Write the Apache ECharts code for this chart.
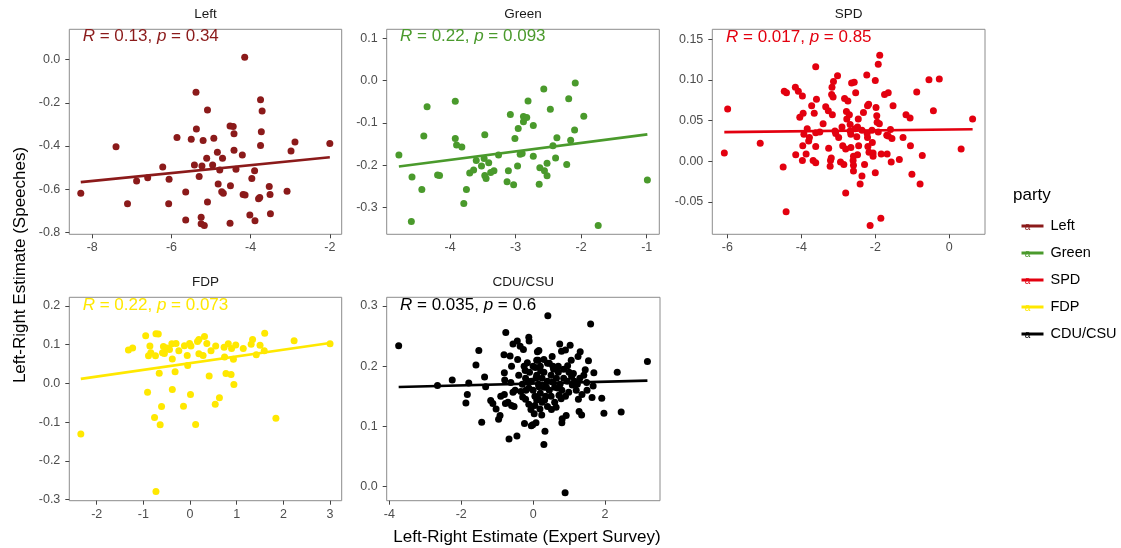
<!DOCTYPE html>
<html><head><meta charset="utf-8">
<script src="https://cdn.jsdelivr.net/npm/echarts@6/dist/echarts.min.js"></script>
<style>html,body{margin:0;padding:0;background:#fff}#c{width:1121px;height:548px}</style>
</head><body><div id="c"></div>
<script>
// ---------- DATA ----------
const parties = ['Left', 'Green', 'SPD', 'FDP', 'CDU/CSU'];

const leftExpert = [-8.29,-7.40,-7.11,-6.88,-6.60,-6.22,-6.06,-6.07,-5.86,-5.64,-5.64,-5.50,-5.38,-5.37,-5.42,-5.30,-5.25,-5.25,-5.17,-5.23,-5.20,-5.09,-5.11,-5.09,-4.93,-4.96,-4.84,-4.82,-4.78,-4.71,-4.73,-4.69,-4.52,-4.44,-4.42,-4.42,-4.37,-4.51,-4.52,-4.21,-4.19,-4.14,-4.15,-4.02,-3.97,-3.90,-3.89,-3.80,-3.77,-3.75,-3.71,-3.73,-3.75,-3.53,-3.51,-3.50,-3.08,-2.98,-2.88,-2.00];
const leftSpeech = [-0.619,-0.403,-0.667,-0.562,-0.547,-0.497,-0.554,-0.667,-0.360,-0.613,-0.743,-0.369,-0.151,-0.321,-0.488,-0.541,-0.730,-0.760,-0.768,-0.493,-0.374,-0.233,-0.457,-0.659,-0.364,-0.488,-0.429,-0.576,-0.511,-0.457,-0.612,-0.619,-0.307,-0.310,-0.343,-0.420,-0.507,-0.584,-0.758,-0.442,-0.625,-0.627,0.011,-0.720,-0.550,-0.514,-0.746,-0.644,-0.639,-0.185,-0.238,-0.334,-0.397,-0.588,-0.624,-0.714,-0.610,-0.423,-0.381,-0.388];

const greenExpert = [-4.78,-4.58,-4.59,-4.43,-4.40,-4.35,-4.19,-4.16,-3.92,-3.92,-3.90,-3.82,-3.79,-3.75,-3.70,-3.64,-3.60,-3.52,-3.48,-3.47,-3.47,-3.45,-3.41,-3.38,-3.33,-3.26,-3.13,-3.11,-3.08,-3.03,-3.01,-2.97,-2.96,-2.93,-2.90,-2.88,-2.88,-2.83,-2.81,-2.73,-2.73,-2.64,-2.63,-2.57,-2.56,-2.52,-2.52,-2.47,-2.43,-2.39,-2.37,-2.22,-2.19,-2.16,-2.10,-2.09,-1.96,-1.74,-0.99];
const greenSpeech = [-0.176,-0.228,-0.333,-0.257,-0.131,-0.062,-0.223,-0.224,-0.049,-0.137,-0.152,-0.157,-0.290,-0.257,-0.218,-0.211,-0.189,-0.202,-0.184,-0.128,-0.224,-0.231,-0.194,-0.217,-0.213,-0.176,-0.239,-0.213,-0.080,-0.246,-0.137,-0.202,-0.113,-0.174,-0.172,-0.097,-0.085,-0.087,-0.048,-0.106,-0.179,-0.245,-0.206,-0.020,-0.213,-0.225,-0.195,-0.068,-0.154,-0.183,-0.135,-0.198,-0.043,-0.141,-0.117,-0.006,-0.084,-0.342,-0.235];

const spdExpert = [-6.08,-5.99,-5.11,-4.49,-4.46,-4.40,-4.41,-4.16,-4.15,-4.08,-4.04,-3.97,-3.97,-3.95,-3.96,-3.93,-3.87,-3.84,-3.80,-3.78,-3.72,-3.65,-3.68,-3.61,-3.61,-3.61,-3.59,-3.61,-3.50,-3.41,-3.34,-3.27,-3.26,-3.21,-3.22,-3.19,-3.17,-3.16,-3.18,-3.14,-3.13,-3.09,-3.07,-3.02,-2.99,-2.94,-2.90,-2.88,-2.85,-2.83,-2.80,-2.78,-2.77,-2.80,-2.74,-2.70,-2.68,-2.68,-2.66,-2.66,-2.64,-2.57,-2.59,-2.60,-2.59,-2.59,-2.53,-2.54,-2.50,-2.48,-2.46,-2.48,-2.45,-2.41,-2.36,-2.36,-2.32,-2.29,-2.23,-2.22,-2.21,-2.21,-2.20,-2.18,-2.17,-2.14,-2.09,-2.08,-2.06,-2.06,-2.00,-2.00,-1.98,-1.96,-1.95,-1.92,-1.88,-1.89,-1.92,-1.85,-1.84,-1.75,-1.69,-1.68,-1.65,-1.65,-1.59,-1.57,-1.55,-1.52,-1.35,-1.25,-1.17,-1.06,-1.05,-1.01,-0.88,-0.79,-0.73,-0.55,-0.43,-0.27,0.32,0.63];
const spdSpeech = [0.010,0.064,0.022,-0.007,0.086,0.084,-0.062,0.091,0.008,0.086,0.054,0.080,0.001,0.059,0.019,0.033,0.009,0.040,0.025,0.029,0.068,0.059,0.001,-0.002,0.116,0.018,0.076,0.035,0.036,0.046,0.067,0.062,0.016,0.001,-0.006,0.004,0.091,0.057,0.082,0.079,0.098,0.037,0.034,0.105,0.029,-0.001,0.042,0.019,-0.004,0.077,-0.039,0.061,0.052,0.015,0.074,0.057,0.037,0.045,0.033,0.017,0.096,0.097,0.006,0.001,-0.005,-0.012,0.084,0.040,0.030,0.042,0.052,0.008,0.019,-0.028,-0.018,0.038,0.060,-0.004,0.106,0.034,0.068,0.029,0.018,0.070,0.011,-0.079,0.038,0.023,0.010,0.006,0.099,-0.014,0.066,0.056,0.048,0.119,0.130,0.046,0.036,-0.070,0.009,0.082,0.032,0.009,0.084,0.031,0.039,-0.001,0.028,0.068,0.002,0.029,0.057,0.053,0.019,-0.016,0.085,-0.028,0.007,0.100,0.062,0.101,0.015,0.052];

const fdpExpert = [-2.34,-1.32,-1.23,-0.95,-0.91,-0.89,-0.86,-0.84,-0.76,-0.74,-0.73,-0.68,-0.73,-0.66,-0.64,-0.61,-0.59,-0.57,-0.55,-0.50,-0.44,-0.39,-0.38,-0.38,-0.32,-0.30,-0.24,-0.14,-0.12,-0.06,-0.05,-0.01,0.02,0.01,0.12,0.16,0.19,0.19,0.28,0.31,0.36,0.41,0.45,0.54,0.55,0.63,0.73,0.74,0.77,0.82,0.88,0.89,0.93,0.94,0.98,1.14,1.31,1.34,1.42,1.50,1.59,1.60,1.84,2.23,3.00];
const fdpSpeech = [-0.131,0.086,0.091,0.123,-0.023,0.071,0.096,0.079,-0.088,0.071,0.128,0.127,-0.279,0.026,-0.107,-0.060,0.079,0.095,0.077,0.091,0.087,0.102,0.063,-0.016,0.030,0.103,0.084,-0.059,0.097,0.072,0.046,0.103,0.096,-0.029,-0.106,0.108,0.076,0.113,0.072,0.121,0.103,0.019,0.084,-0.054,0.096,-0.037,0.093,0.068,0.025,0.102,0.023,0.090,0.062,-0.003,0.099,0.090,0.101,0.113,0.074,0.098,0.084,0.129,-0.090,0.110,0.102];

const cduExpert = [-3.74,-2.66,-2.25,-1.79,-1.83,-1.87,-1.59,-1.51,-1.43,-1.35,-1.32,-1.18,-1.12,-1.03,-0.96,-0.92,-0.81,-0.76,-0.80,-0.79,-0.80,-0.77,-0.67,-0.64,-0.62,-0.60,-0.56,-0.53,-0.56,-0.45,-0.44,-0.43,-0.36,-0.34,-0.29,-0.27,-0.24,-0.22,-0.21,-0.21,-0.16,-0.12,-0.12,-0.12,-0.11,-0.06,-0.01,-0.05,0.03,0.08,0.06,0.08,0.10,0.12,0.14,0.16,0.16,0.19,0.21,0.24,0.30,0.33,0.30,0.32,0.37,0.40,0.41,0.45,0.51,0.53,0.54,0.57,0.64,0.68,0.72,0.74,0.78,0.79,0.80,0.81,0.85,0.89,0.90,0.92,0.96,0.99,1.03,1.06,1.07,1.09,1.12,1.23,1.25,1.26,1.28,1.31,1.35,1.36,1.41,1.45,1.49,1.54,1.60,1.64,1.67,1.69,1.91,1.97,2.34,2.45,3.18,
  -0.30,-0.20,-0.10,-0.05,0.00,0.00,0.05,0.10,0.15,0.20,0.20,0.25,0.30,0.30,0.35,0.40,0.45,0.50,0.50,0.55,0.60,0.65,0.70,0.75,0.80,0.85,0.90,0.95,0.25,0.10,-0.40,-0.50,0.60,0.70,1.00,1.15,1.20,-0.15,0.05,0.40,0.15,-0.25,1.50,1.30,-0.70,-0.90,-0.60];
const cduSpeech = [0.234,0.168,0.177,0.172,0.153,0.139,0.202,0.226,0.107,0.182,0.166,0.143,0.138,0.129,0.112,0.118,0.219,0.256,0.189,0.177,0.153,0.138,0.079,0.217,0.173,0.135,0.157,0.133,0.237,0.084,0.242,0.211,0.233,0.158,0.149,0.228,0.105,0.193,0.180,0.145,0.206,0.248,0.164,0.137,0.242,0.128,0.103,0.101,0.121,0.106,0.198,0.180,0.144,0.224,0.210,0.166,0.226,0.129,0.192,0.119,0.070,0.092,0.211,0.144,0.165,0.133,0.284,0.205,0.128,0.216,0.174,0.195,0.132,0.164,0.152,0.237,0.146,0.225,0.106,0.113,0.195,-0.010,0.227,0.118,0.201,0.157,0.235,0.210,0.183,0.169,0.188,0.170,0.216,0.145,0.125,0.224,0.119,0.153,0.185,0.194,0.173,0.209,0.270,0.148,0.167,0.189,0.147,0.122,0.190,0.124,0.208,
  0.170,0.160,0.190,0.175,0.160,0.200,0.150,0.185,0.170,0.155,0.200,0.180,0.165,0.190,0.150,0.175,0.160,0.185,0.150,0.200,0.165,0.180,0.190,0.170,0.160,0.180,0.150,0.175,0.140,0.210,0.185,0.160,0.140,0.200,0.190,0.175,0.160,0.175,0.135,0.205,0.145,0.200,0.160,0.180,0.140,0.150,0.200];

// fitted regression lines (endpoints)
const fitExpert = [[-8.29, -2.00], [-4.78, -0.99], [-6.08, 0.63], [-2.34, 3.00], [-3.74, 3.18]];
const fitSpeech = [[-0.567, -0.452], [-0.203, -0.127], [0.0357, 0.0393], [0.0116, 0.104], [0.1655, 0.176]];

const corR = ['0.13', '0.22', '0.017', '0.22', '0.035'];
const corP = ['0.34', '0.093', '0.85', '0.073', '0.6'];

const xTicks = [[-8, -6, -4, -2], [-4, -3, -2, -1], [-6, -4, -2, 0], [-2, -1, 0, 1, 2, 3], [-4, -2, 0, 2]];
const yTicks = [[-0.8, -0.6, -0.4, -0.2, 0.0], [-0.3, -0.2, -0.1, 0.0, 0.1], [-0.05, 0.00, 0.05, 0.10, 0.15], [-0.3, -0.2, -0.1, 0.0, 0.1, 0.2], [0.0, 0.1, 0.2, 0.3]];
const yDecimals = [1, 1, 2, 1, 1];

// ---------- LAYOUT / STYLE ----------
const partyColors = ['#8B1A1A', '#4A9A2C', '#E3000F', '#FFE800', '#000000'];
const gridBoxes = [
  { left: 69.3, top: 29.3, width: 272.4, height: 205 },
  { left: 386.7, top: 29.3, width: 272.6, height: 205 },
  { left: 712.3, top: 29.3, width: 272.7, height: 205 },
  { left: 69.3, top: 297.3, width: 272.4, height: 203.4 },
  { left: 386.7, top: 297.3, width: 273.3, height: 203.4 }
];
const xRanges = [[-8.58, -1.70], [-4.966, -0.808], [-6.405, 0.965], [-2.587, 3.25], [-4.073, 3.53]];
const yRanges = [[-0.809, 0.141], [-0.363, 0.121], [-0.0897, 0.162], [-0.303, 0.222], [-0.0233, 0.3145]];
const annPos = [[82.7, 36.7], [400, 36.7], [726, 37], [82.7, 305], [400, 305]];
const FONT = '"Liberation Sans", Arial, Helvetica, sans-serif';

const allExpert = [leftExpert, greenExpert, spdExpert, fdpExpert, cduExpert];
const allSpeech = [leftSpeech, greenSpeech, spdSpeech, fdpSpeech, cduSpeech];

function zip(a, b) { const n = Math.min(a.length, b.length); const o = []; for (let i = 0; i < n; i++) o.push([a[i], b[i]]); return o; }

const grid = [], xAxis = [], yAxis = [], series = [], graphic = [];
parties.forEach((p, i) => {
  grid.push(Object.assign({ show: true, borderColor: '#8c8c8c', borderWidth: 1, backgroundColor: '#fff', containLabel: false }, gridBoxes[i]));
  const tickStyle = { show: true, length: 4, inside: false, lineStyle: { color: '#444', width: 1 } };
  xAxis.push({
    type: 'value', gridIndex: i, min: xRanges[i][0], max: xRanges[i][1], position: 'bottom',
    axisLine: { show: false, onZero: false }, splitLine: { show: false },
    axisTick: Object.assign({ customValues: xTicks[i] }, tickStyle),
    axisLabel: { customValues: xTicks[i], color: '#4d4d4d', fontSize: 12.5, fontFamily: FONT, margin: 7, formatter: v => String(Math.round(v)) }
  });
  yAxis.push({
    type: 'value', gridIndex: i, min: yRanges[i][0], max: yRanges[i][1], position: 'left',
    axisLine: { show: false, onZero: false }, splitLine: { show: false },
    axisTick: Object.assign({ customValues: yTicks[i] }, tickStyle),
    axisLabel: { customValues: yTicks[i], color: '#4d4d4d', fontSize: 12.5, fontFamily: FONT, margin: 9, formatter: v => Number(v).toFixed(yDecimals[i]) }
  });
  series.push({
    name: p, type: 'scatter', xAxisIndex: i, yAxisIndex: i,
    data: zip(allExpert[i], allSpeech[i]), symbolSize: 7,
    itemStyle: { color: partyColors[i], opacity: 1 }, silent: true, z: 2
  });
  series.push({
    name: p, type: 'line', xAxisIndex: i, yAxisIndex: i,
    data: zip(fitExpert[i], fitSpeech[i]), symbol: 'none',
    lineStyle: { color: partyColors[i], width: 2.7 }, itemStyle: { color: partyColors[i] }, silent: true, z: 3
  });
  // strip title
  const g = gridBoxes[i];
  graphic.push({
    type: 'text', x: g.left + g.width / 2, y: g.top - 14.8, z: 10,
    style: { text: p, fill: '#1a1a1a', font: '13.5px ' + FONT, textAlign: 'center', textVerticalAlign: 'middle' }
  });
  // correlation annotation
  graphic.push({
    type: 'text', x: annPos[i][0], y: annPos[i][1], z: 10,
    style: {
      text: '{i|R} = ' + corR[i] + ', {i|p} = ' + corP[i],
      fill: partyColors[i], font: '17px ' + FONT, textAlign: 'left', textVerticalAlign: 'middle',
      rich: { i: { fontStyle: 'italic', fill: partyColors[i], font: 'italic 17px ' + FONT } }
    }
  });
});

// axis titles
graphic.push({
  type: 'text', x: 527, y: 537, z: 10,
  style: { text: 'Left-Right Estimate (Expert Survey)', fill: '#000', font: '17px ' + FONT, textAlign: 'center', textVerticalAlign: 'middle' }
});
graphic.push({
  type: 'text', x: 20, y: 265, rotation: Math.PI / 2, z: 10,
  style: { text: 'Left-Right Estimate (Speeches)', fill: '#000', font: '17px ' + FONT, textAlign: 'center', textVerticalAlign: 'middle' }
});
// legend title
graphic.push({
  type: 'text', x: 1013, y: 195, z: 10,
  style: { text: 'party', fill: '#000', font: '17px ' + FONT, textAlign: 'left', textVerticalAlign: 'middle' }
});
// small "a" glyphs in legend keys
const legendY = [225, 252, 279, 306, 333];
parties.forEach((p, i) => {
  graphic.push({
    type: 'text', x: 1027.5, y: legendY[i] + 2.5, z: 20,
    style: { text: 'a', fill: partyColors[i], font: '10px ' + FONT, textAlign: 'center', textVerticalAlign: 'middle' }
  });
});

const option = {
  backgroundColor: '#fff',
  animation: false,
  grid, xAxis, yAxis, series, graphic,
  legend: {
    data: parties.map(p => ({ name: p, icon: 'rect' })),
    orient: 'vertical', left: 1016.5, top: 213,
    itemWidth: 22, itemHeight: 3, itemGap: 11,
    selectedMode: false,
    textStyle: { fontSize: 14.5, fontFamily: FONT, color: '#000', lineHeight: 16, padding: [0, 0, 0, 2] }
  }
};
const chart = echarts.init(document.getElementById('c'), null, { renderer: 'canvas' });
chart.setOption(option);
</script>
</body></html>
